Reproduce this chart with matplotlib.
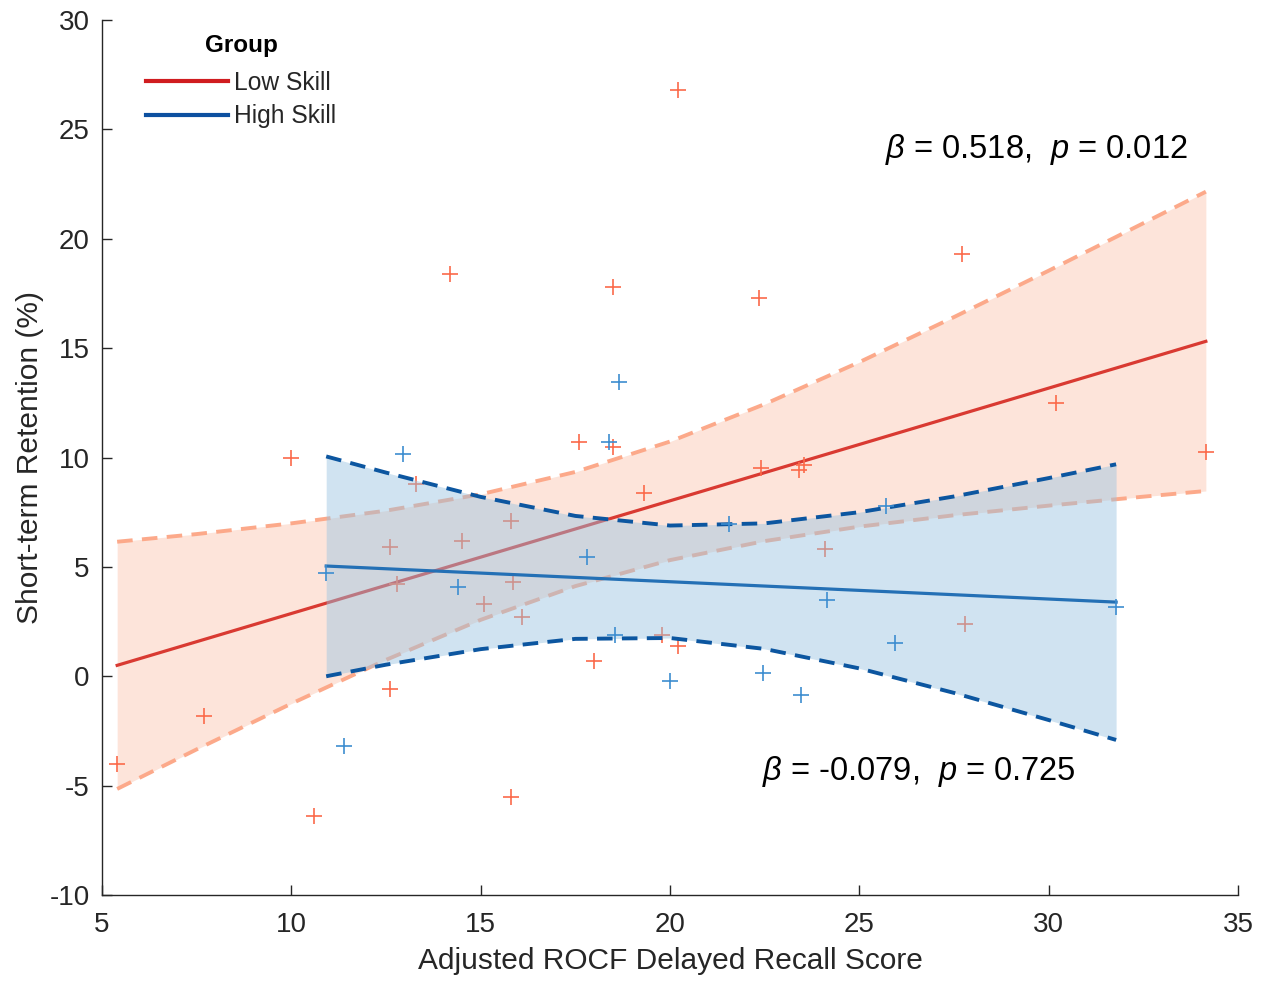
import matplotlib
matplotlib.use("Agg")
import matplotlib.pyplot as plt
from matplotlib.lines import Line2D

plt.rcParams['font.family'] = ['Liberation Sans', 'DejaVu Sans']
plt.rcParams['mathtext.fontset'] = 'custom'
plt.rcParams['mathtext.rm'] = 'Liberation Sans'
plt.rcParams['mathtext.it'] = 'Liberation Sans:italic'
plt.rcParams['axes.unicode_minus'] = False

# ---- data: scatter points ----
low_x = [5.4, 7.7, 10.0, 10.6, 12.6, 12.6, 12.8, 13.3, 14.2, 14.5, 15.1, 15.8, 15.85,
         15.8, 16.1, 17.6, 18.0, 18.5, 18.5, 19.3, 19.8, 20.2, 20.2, 22.35, 22.4,
         23.4, 23.55, 24.1, 27.7, 27.8, 30.2, 34.15]
low_y = [-4.0, -1.8, 10.0, -6.4, 5.9, -0.6, 4.2, 8.8, 18.4, 6.2, 3.3, 7.1, 4.3,
         -5.5, 2.7, 10.7, 0.7, 17.8, 10.5, 8.4, 1.9, 1.4, 26.8, 17.3, 9.5,
         9.45, 9.65, 5.8, 19.3, 2.4, 12.5, 10.25]
high_x = [10.92, 11.4, 12.95, 14.4, 17.8, 18.4, 18.65, 18.55, 20.0, 21.55, 22.45,
          23.45, 24.15, 25.7, 25.95, 31.78]
high_y = [4.7, -3.2, 10.15, 4.1, 5.45, 10.7, 13.45, 1.9, -0.2, 6.95, 0.15,
          -0.85, 3.5, 7.8, 1.5, 3.15]

# ---- data: fitted lines (end points) ----
low_fit_x = [5.4, 34.15]
low_fit_y = [0.5, 15.31]
high_fit_x = [10.92, 31.78]
high_fit_y = [5.04, 3.39]

# ---- data: 95% confidence bands ----
low_ci_x = [5.4, 7.5, 10.0, 12.5, 15.0, 17.5, 20.0, 22.5, 25.0, 27.5, 30.0, 32.5, 34.15]
low_ci_hi = [6.15, 6.50, 6.99, 7.57, 8.32, 9.34, 10.73, 12.44, 14.36, 16.42, 18.54, 20.71, 22.15]
low_ci_lo = [-5.15, -3.34, -1.25, 0.75, 2.58, 4.12, 5.31, 6.18, 6.84, 7.36, 7.80, 8.21, 8.47]
high_ci_x = [10.92, 12.5, 15.0, 17.5, 20.0, 22.5, 25.0, 27.5, 30.0, 31.78]
high_ci_hi = [10.05, 9.31, 8.20, 7.33, 6.89, 6.99, 7.50, 8.22, 9.06, 9.69]
high_ci_lo = [0.0, 0.53, 1.24, 1.71, 1.75, 1.25, 0.36, -0.76, -2.00, -2.91]

group_labels = ['Low Skill', 'High Skill']
legend_title = 'Group'
annot_low = r'$\mathit{\beta}$ = 0.518,  $\mathit{p}$ = 0.012'
annot_high = r'$\mathit{\beta}$ = -0.079,  $\mathit{p}$ = 0.725'
x_ticks = [5, 10, 15, 20, 25, 30, 35]
y_ticks = [-10, -5, 0, 5, 10, 15, 20, 25, 30]

# ---- styling ----
RED_LINE = '#d93a32'
RED_DASH = '#fca98a'
RED_FILL = '#fde4da'
RED_PT = '#fb6a4a'
BLUE_LINE = '#2470b5'
BLUE_DASH = '#0c56a0'
BLUE_FILL = '#97c3e2'
BLUE_PT = '#3d8dd0'
AX = '#262626'

fig = plt.figure(figsize=(12.72, 9.84), dpi=100)
ax = fig.add_axes([0.0802, 0.0904, 0.8931, 0.8893])

dash = (4.0, 2.4)
# low skill
ax.fill_between(low_ci_x, low_ci_lo, low_ci_hi, color=RED_FILL, lw=0, zorder=1)
ax.plot(low_ci_x, low_ci_hi, color=RED_DASH, lw=2.8, dashes=dash, zorder=2)
ax.plot(low_ci_x, low_ci_lo, color=RED_DASH, lw=2.8, dashes=dash, zorder=2)
ax.plot(low_fit_x, low_fit_y, color=RED_LINE, lw=2.3, zorder=3)
ax.plot(low_x, low_y, ls='none', marker='+', ms=12, mew=1.2, color=RED_PT, zorder=4)
# high skill (semi-transparent band on top)
ax.fill_between(high_ci_x, high_ci_lo, high_ci_hi, color=BLUE_FILL, alpha=0.45, lw=0, zorder=5)
ax.plot(high_ci_x, high_ci_hi, color=BLUE_DASH, lw=2.8, dashes=dash, zorder=6)
ax.plot(high_ci_x, high_ci_lo, color=BLUE_DASH, lw=2.8, dashes=dash, zorder=6)
ax.plot(high_fit_x, high_fit_y, color=BLUE_LINE, lw=2.3, zorder=7)
ax.plot(high_x, high_y, ls='none', marker='+', ms=12, mew=1.2, color=BLUE_PT, zorder=8)

ax.set_xlim(5, 35)
ax.set_ylim(-10, 30)
ax.set_xticks(x_ticks)
ax.set_yticks(y_ticks)
ax.spines['top'].set_visible(False)
ax.spines['right'].set_visible(False)
for s in ('left', 'bottom'):
    ax.spines[s].set_color(AX)
    ax.spines[s].set_linewidth(1.0)
ax.tick_params(direction='in', length=7, width=1.0, colors=AX, labelsize=20)
ax.tick_params(axis='x', pad=12)
ax.tick_params(axis='y', pad=9)
ax.set_xlabel('Adjusted ROCF Delayed Recall Score', fontsize=21.5, color=AX, labelpad=7)
ax.set_ylabel('Short-term Retention (%)', fontsize=21.5, color=AX, labelpad=4)

ax.text(25.68, 24.1, annot_low, fontsize=23.5, color='black', ha='left', va='center')
ax.text(22.43, -4.33, annot_high, fontsize=23.5, color='black', ha='left', va='center')

handles = [Line2D([], [], color='#d01c20', lw=3.0),
           Line2D([], [], color='#0d50a0', lw=3.0)]
leg = ax.legend(handles, group_labels, loc='center left',
                bbox_to_anchor=(0.024, 0.9091), frameon=False, fontsize=17.7,
                handlelength=3.3, handletextpad=0.25, labelspacing=0.38,
                borderaxespad=0.3)
for t in leg.get_texts():
    t.set_color(AX)
ax.text(0.1224, 0.9714, legend_title, transform=ax.transAxes, fontsize=17.5,
        fontweight='bold', color='black', ha='center', va='center')

fig.savefig('out.png', dpi=100)
